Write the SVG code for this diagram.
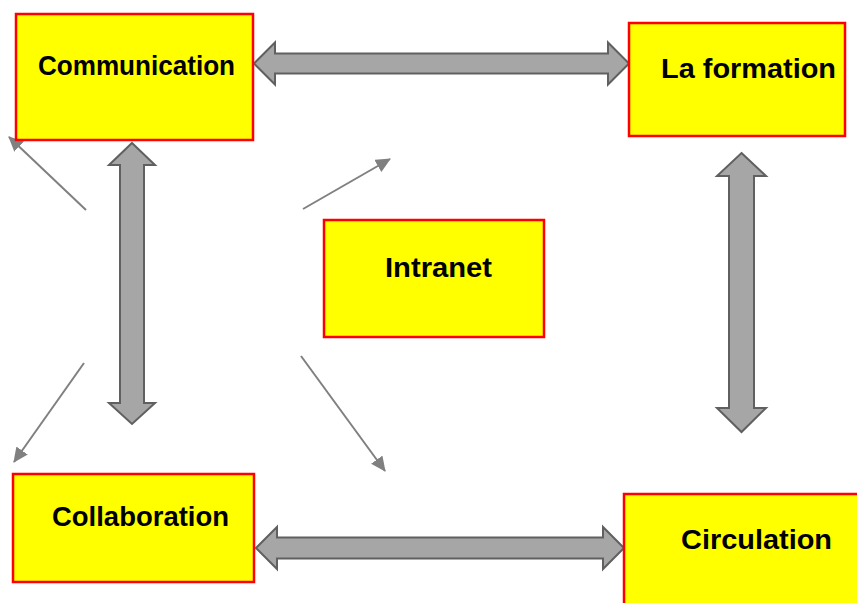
<svg xmlns="http://www.w3.org/2000/svg" width="857" height="603" viewBox="0 0 857 603">
<defs>
<style>
.box{fill:#ffff00;stroke:#ff0000;stroke-width:2.5}
.lbl{font-family:"Liberation Sans",Arial,sans-serif;font-weight:bold;font-size:28px;fill:#000}
.big{fill:#a6a6a6;stroke:#606060;stroke-width:2;stroke-linejoin:miter}
.thin{stroke:#808080;stroke-width:2;fill:none;marker-end:url(#ah)}
</style>
<marker id="ah" viewBox="0 0 15 14" refX="14" refY="7" markerWidth="7.5" markerHeight="7" markerUnits="strokeWidth" orient="auto">
<path d="M0,0 L15,7 L0,14 Z" fill="#808080"/>
</marker>
</defs>
<rect width="857" height="603" fill="#fff"/>
<g id="connectors">
<path class="big" d="M254,63.5 L275,42.5 L275,53.5 L608,53.5 L608,42.5 L629,63.5 L608,84.5 L608,73.5 L275,73.5 L275,84.5 Z"/>
<path class="big" d="M256,548 L277,527 L277,537.5 L603,537.5 L603,527 L624,548 L603,569 L603,558.5 L277,558.5 L277,569 Z"/>
<path class="big" d="M132,143 L155,165 L144,165 L144,403 L155,403 L132,424 L109,403 L120,403 L120,165 L109,165 Z"/>
<path class="big" d="M741.5,153 L766,176 L754,176 L754,408 L766,408 L741.5,432 L717,408 L729,408 L729,176 L717,176 Z"/>
<line class="thin" x1="86" y1="210" x2="9" y2="137"/>
<line class="thin" x1="303" y1="209" x2="390" y2="159"/>
<line class="thin" x1="84" y1="363" x2="14" y2="462"/>
<line class="thin" x1="301" y1="356" x2="385" y2="471"/>
</g>
<g id="communication">
<rect class="box" x="16" y="14" width="237" height="126"/>
<text class="lbl" x="38" y="75" textLength="197" lengthAdjust="spacingAndGlyphs">Communication</text>
</g>
<g id="la-formation">
<rect class="box" x="629" y="23" width="216" height="113"/>
<text class="lbl" x="661" y="78" textLength="175" lengthAdjust="spacingAndGlyphs">La formation</text>
</g>
<g id="intranet">
<rect class="box" x="324" y="220" width="220" height="117"/>
<text class="lbl" x="385" y="277" textLength="107" lengthAdjust="spacingAndGlyphs">Intranet</text>
</g>
<g id="collaboration">
<rect class="box" x="13" y="474" width="241" height="108"/>
<text class="lbl" x="52" y="526" textLength="177" lengthAdjust="spacingAndGlyphs">Collaboration</text>
</g>
<g id="circulation">
<rect class="box" x="624" y="494" width="240" height="120"/>
<text class="lbl" x="681" y="549" textLength="151" lengthAdjust="spacingAndGlyphs">Circulation</text>
</g>
</svg>
